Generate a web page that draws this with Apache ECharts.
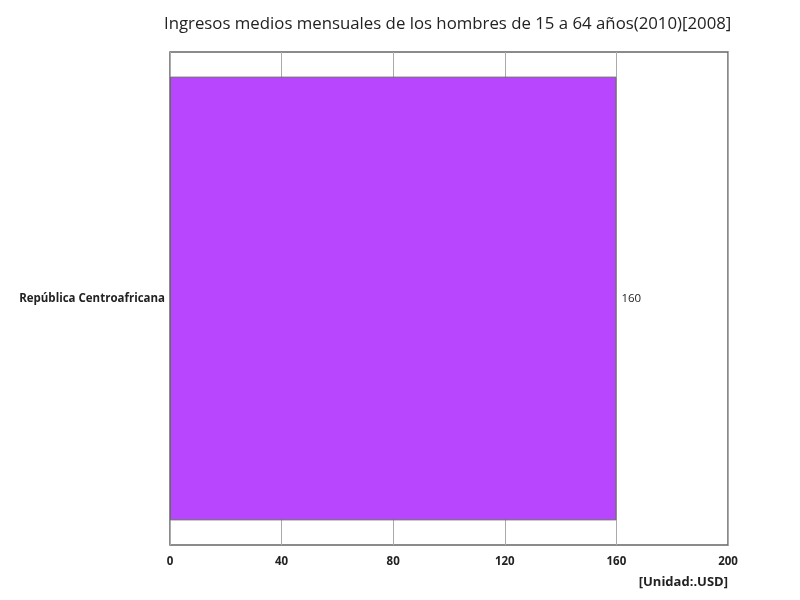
<!DOCTYPE html>
<html>
<head>
<meta charset="utf-8">
<title>Ingresos medios</title>
<script src="https://cdn.jsdelivr.net/npm/echarts@6/dist/echarts.min.js"></script>
<style>
    body { margin: 0; }
    #main { width: 800px; height: 600px; }
</style>
</head>
<body>
<div id="main"></div>
<script type="text/javascript">
    var titleText = 'Ingresos medios mensuales de los hombres de 15 a 64 años(2010)[2008]';
    var countries = ['República Centroafricana'];
    var values = [160];
    var unitText = '[Unidad:.USD]';

    var myChart = echarts.init(document.getElementById('main'));
    var option = {
        animation: false,
        textStyle: { fontFamily: 'Open Sans' },
        title: {
            text: titleText,
            left: 159,
            top: 11,
            textStyle: { fontSize: 16.8, fontWeight: 'normal', color: '#222' }
        },
        graphic: [{
            type: 'text',
            right: 72,
            top: 576,
            style: { text: unitText, fontSize: 13, fontWeight: 'bold', fill: '#222', fontFamily: 'Open Sans' }
        }],
        grid: { left: 170, right: 72, top: 52, bottom: 55, show: true, borderColor: '#666', borderWidth: 1.5 },
        xAxis: {
            type: 'value',
            min: 0,
            max: 200,
            interval: 40,
            axisLine: { show: false },
            axisTick: { show: false },
            axisLabel: { color: '#222', fontWeight: 'bold', fontSize: 11.5, margin: 11 },
            splitLine: { lineStyle: { color: '#aaa', width: 1 } }
        },
        yAxis: {
            type: 'category',
            data: countries,
            axisLine: { show: false },
            axisTick: { show: false },
            axisLabel: { color: '#222', fontWeight: 'bold', fontSize: 11.5, margin: 5 }
        },
        series: [{
            type: 'bar',
            data: values,
            barWidth: '90%',
            itemStyle: { color: '#b946ff', borderColor: '#666', borderWidth: 1 },
            label: { show: true, position: 'right', color: '#222', fontSize: 11.5, distance: 5 }
        }]
    };
    myChart.setOption(option);
</script>
</body>
</html>
